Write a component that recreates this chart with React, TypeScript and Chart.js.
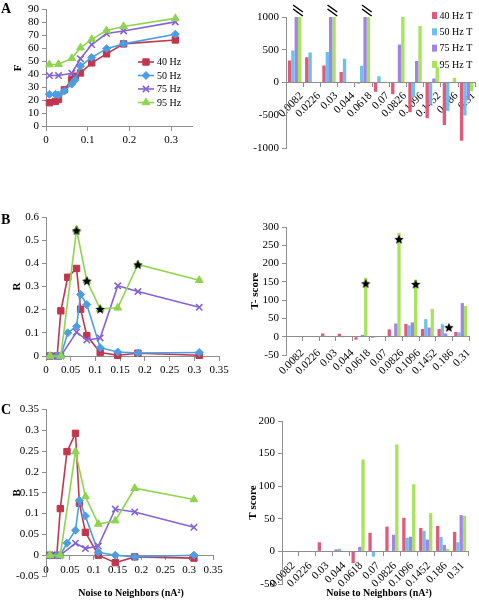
import React, { useEffect, useRef } from 'react';
import { Chart, registerables } from 'chart.js';
import { drawPoint } from 'chart.js/helpers';

Chart.register(...registerables);

const FONT = '"Liberation Serif", "Times New Roman", Times, serif';
Chart.defaults.font.family = FONT;
Chart.defaults.font.size = 11;
Chart.defaults.color = '#000';

// ---------- shared data ----------
const SERIES = ['40 Hz', '50 Hz', '75 Hz', '95 Hz'];
const BAR_SERIES = ['40 Hz T', '50 Hz T', '75 Hz T', '95 Hz T'];
const NOISE_ALL = [0.0082, 0.0226, 0.03, 0.044, 0.0618, 0.07, 0.0826, 0.1096, 0.1452, 0.186, 0.31];
const NOISE_HIGH = [0.0082, 0.03, 0.0618, 0.0826, 0.1096, 0.1452, 0.186, 0.31];
const CATEGORIES = ['0.0082', '0.0226', '0.03', '0.044', '0.0618', '0.07', '0.0826', '0.1096', '0.1452', '0.186', '0.31'];

// ---------- panel A: F ----------
const F_40 = [18, 19, 20.5, 28, 36, 38.5, 41, 48.8, 55.8, 63.5, 66.5];
const F_50 = [24.5, 24.5, 24, 27, 32.4, 35.5, 46.3, 53, 59.8, 63.5, 71];
const F_75 = [39, 39, 40.8, 52, 63, 71.5, 73.5, 80.5];
const F_95 = [47.5, 47.8, 52.3, 60.5, 67, 73.8, 77, 83.2];

const FT_40 = [337, 387, 261, 161, -15, -141, -181, -455, -545, -650, -890];
const FT_50 = [487, 457, 467, 362, 256, 95, 0, -220, -340, -435, -505];
const FT_75 = [1000, null, 1000, null, 1000, null, 582, 330, 60, 0, -270];
const FT_95 = [1000, null, 1000, null, 1000, null, 1000, 863, 235, 71, -132];
const FT_BREAKS = ['0.0082', '0.03', '0.0618'];

// ---------- panel B: R ----------
const R_40 = [0, 0, 0.195, 0.34, 0.378, 0.202, 0.088, 0.015, 0.003, 0.012, 0.003];
const R_50 = [0, 0, 0, 0.1, 0.128, 0.266, 0.222, 0.036, 0.017, 0.013, 0.015];
const R_75 = [0, 0, 0.103, 0.069, 0.078, 0.303, 0.278, 0.21];
const R_95 = [0, 0, 0.545, 0.325, 0.203, 0.208, 0.395, 0.327];
const R_STAR_X = [0.0618, 0.0826, 0.1096, 0.186];
const R_STAR_Y = [0.542, 0.325, 0.203, 0.395];

const RT_40 = [0, 0, 9, 8, -8, -3, 20, 35, 21, 21, 13];
const RT_50 = [0, 0, 0, -2, 1, -2, 0, 31, 48, 34, 12];
const RT_75 = [0, null, 0, null, 5, null, 36, 39, 25, 9, 92];
const RT_95 = [0, null, 0, null, 161, null, 284, 156, 76, 0, 84];
const RT_STAR_CATS = ['0.0618', '0.0826', '0.1096', '0.186'];
const RT_STAR_VALUES = [146, 267, 144, 26];

// ---------- panel C: B ----------
const B_40 = [0, 0, 0.112, 0.249, 0.293, 0.125, 0.055, 0, -0.018, -0.004, -0.007];
const B_50 = [0, 0, 0, 0.029, 0.06, 0.132, 0.094, 0.007, 0, -0.004, 0];
const B_75 = [0, 0, 0.029, 0.016, 0.022, 0.111, 0.104, 0.067];
const B_95 = [0, 0, 0.249, 0.141, 0.075, 0.083, 0.161, 0.134];

const BT_40 = [0, 0, 14, 3, -18, 28.5, 38, 51.5, 36, 39, 30];
const BT_50 = [0, 0, 0, 4, 0, -8, -1, 21, 31.5, 22, 14];
const BT_75 = [0, null, 0, null, 7, null, 25.5, 22.5, 18, 10, 55.6];
const BT_95 = [0, null, 0, null, 141, null, 164, 103, 58.7, 4, 54.6];

// ---------- styles ----------
const LINE_COLORS = ['#c2364d', '#4b9ee3', '#8463d4', '#8fd44e'];
const BAR_COLORS = ['#e25a7b', '#6cbff0', '#a085e4', '#a7e35b'];
const POINT_STYLES = ['rect', 'rectRot', 'crossRot', 'triangle'];
const POINT_RADII = [4.5, 4, 4.5, 4.5];
const AXIS = '#8e8e8e';

function makeStar(size: number) {
  const c = document.createElement('canvas');
  c.width = size;
  c.height = size;
  const ctx = c.getContext('2d')!;
  ctx.fillStyle = '#000';
  ctx.beginPath();
  const cx = size / 2, cy = size / 2 + 0.6, R = size / 2, r = R * 0.45;
  for (let i = 0; i < 10; i++) {
    const a = -Math.PI / 2 + (i * Math.PI) / 5;
    const rad = i % 2 ? r : R;
    ctx.lineTo(cx + rad * Math.cos(a), cy + rad * Math.sin(a));
  }
  ctx.closePath();
  ctx.fill();
  return c;
}

const fmt = (v: any) => String(Math.round(Number(v) * 10000) / 10000);

function yAxis(o: { min: number; max: number; step: number; width: number; title?: string; titlePad?: number }) {
  return {
    type: 'linear',
    min: o.min,
    max: o.max,
    ticks: { stepSize: o.step, autoSkip: false, padding: 3, color: '#000', font: { size: 11 }, callback: fmt },
    grid: { display: true, drawOnChartArea: false, drawTicks: true, tickLength: 4, color: AXIS },
    border: { display: true, color: AXIS, width: 1 },
    title: o.title
      ? { display: true, text: o.title, color: '#000', font: { size: 11, weight: 'bold' }, padding: { top: o.titlePad ?? 8, bottom: 0 } }
      : { display: false },
    afterFit: (s: any) => {
      s.width = o.width;
    },
  };
}

function xLinear(o: { max: number; step: number; includeBounds: boolean }) {
  return {
    type: 'linear',
    axis: 'x',
    position: { y: 0 },
    min: 0,
    max: o.max,
    ticks: { stepSize: o.step, includeBounds: o.includeBounds, autoSkip: false, padding: 4, color: '#000', font: { size: 11 }, callback: fmt, maxRotation: 0 },
    grid: { display: true, drawOnChartArea: false, drawTicks: true, tickLength: 4, color: AXIS },
    border: { display: true, color: AXIS, width: 1 },
  };
}

function xCategory(labelOffset: number, padding: number) {
  return {
    type: 'category',
    axis: 'x',
    position: { y: 0 },
    offset: true,
    ticks: { autoSkip: false, minRotation: 45, maxRotation: 45, padding, labelOffset, color: '#000', font: { size: 11 } },
    grid: { display: true, offset: true, drawOnChartArea: false, drawTicks: true, tickLength: 4, color: AXIS },
    border: { display: true, color: AXIS, width: 1 },
  };
}

function lineDataset(i: number, xs: number[], ys: number[]) {
  return {
    label: SERIES[i],
    data: xs.map((x, k) => ({ x, y: ys[k] })),
    borderColor: LINE_COLORS[i],
    backgroundColor: LINE_COLORS[i],
    pointBackgroundColor: LINE_COLORS[i],
    pointBorderColor: LINE_COLORS[i],
    borderWidth: 1.6,
    pointStyle: POINT_STYLES[i],
    pointRadius: POINT_RADII[i],
    pointBorderWidth: i === 2 ? 1.6 : 1,
    tension: 0,
    clip: false,
    order: 3 - i,
  };
}

function barDataset(i: number, values: (number | null)[]) {
  return {
    label: BAR_SERIES[i],
    data: values,
    backgroundColor: BAR_COLORS[i],
    borderWidth: 0,
    categoryPercentage: 0.78,
    barPercentage: 1,
  };
}

function makeLineLegend(x: number, y: number, spacing: number) {
  return {
    id: 'lineLegend',
    afterDatasetsDraw(chart: any) {
      const ctx = chart.ctx;
      ctx.save();
      ctx.font = `10px ${FONT}`;
      ctx.textBaseline = 'middle';
      chart.data.datasets.slice(0, 4).forEach((ds: any, i: number) => {
        const yy = y + i * spacing;
        ctx.strokeStyle = ds.borderColor;
        ctx.lineWidth = ds.borderWidth;
        ctx.beginPath();
        ctx.moveTo(x, yy);
        ctx.lineTo(x + 16, yy);
        ctx.stroke();
        ctx.fillStyle = ds.pointBackgroundColor;
        ctx.strokeStyle = ds.pointBorderColor;
        ctx.lineWidth = ds.pointBorderWidth;
        drawPoint(ctx, { pointStyle: ds.pointStyle, radius: ds.pointRadius, rotation: 0, borderWidth: ds.pointBorderWidth } as any, x + 8, yy);
        ctx.fillStyle = '#000';
        ctx.fillText(ds.label, x + 19, yy + 0.5);
      });
      ctx.restore();
    },
  };
}

function makeBoxLegend(x: number, y: number, spacing: number) {
  return {
    id: 'boxLegend',
    afterDatasetsDraw(chart: any) {
      const ctx = chart.ctx;
      ctx.save();
      ctx.font = `10px ${FONT}`;
      ctx.textBaseline = 'middle';
      chart.data.datasets.forEach((ds: any, i: number) => {
        const yy = y + i * spacing;
        ctx.fillStyle = ds.backgroundColor;
        ctx.fillRect(x, yy - 3.5, 5, 7);
        ctx.fillStyle = '#000';
        ctx.fillText(ds.label, x + 7.5, yy + 0.5);
      });
      ctx.restore();
    },
  };
}

function makeBreakPlugin(cats: string[]) {
  return {
    id: 'breakMarks',
    afterDatasetsDraw(chart: any) {
      const ctx = chart.ctx;
      const m2 = chart.getDatasetMeta(2);
      const m3 = chart.getDatasetMeta(3);
      ctx.save();
      ctx.strokeStyle = '#000';
      ctx.lineWidth = 1.5;
      cats.forEach((c) => {
        const i = chart.data.labels.indexOf(c);
        const a = m2.data[i];
        const b = m3.data[i];
        if (!a || !b) return;
        const xl = a.x - a.width / 2 - 1.5;
        const xr = b.x + b.width / 2 + 1.5;
        const top = Math.min(a.y, b.y);
        [[-12, -5], [-8, -1]].forEach(([d1, d2]) => {
          ctx.beginPath();
          ctx.moveTo(xl, top + d1);
          ctx.lineTo(xr, top + d2);
          ctx.stroke();
        });
      });
      ctx.restore();
    },
  };
}

function makeBarStars(cats: string[], values: number[], datasetIndex: number, star: HTMLCanvasElement) {
  return {
    id: 'barStars',
    afterDatasetsDraw(chart: any) {
      const ctx = chart.ctx;
      const meta = chart.getDatasetMeta(datasetIndex);
      const ys = chart.scales.y;
      cats.forEach((c, k) => {
        const i = chart.data.labels.indexOf(c);
        const el = meta.data[i];
        if (!el) return;
        const px = el.x;
        const py = ys.getPixelForValue(values[k]);
        ctx.drawImage(star, px - star.width / 2, py - star.height / 2);
      });
    },
  };
}

const baseOptions = (padding: any) => ({
  animation: false,
  responsive: false,
  maintainAspectRatio: false,
  devicePixelRatio: 1,
  layout: { padding },
  plugins: { legend: { display: false }, tooltip: { enabled: false } },
});

// ---------- chart factories ----------
function makeA1() {
  return {
    type: 'line',
    data: {
      datasets: [
        lineDataset(0, NOISE_ALL, F_40),
        lineDataset(1, NOISE_ALL, F_50),
        lineDataset(2, NOISE_HIGH, F_75),
        lineDataset(3, NOISE_HIGH, F_95),
      ],
    },
    options: {
      ...baseOptions({ left: 0, top: 7, right: 48, bottom: 74 }),
      scales: {
        x: xLinear({ max: 0.35, step: 0.1, includeBounds: false }),
        y: yAxis({ min: 0, max: 90, step: 10, width: 46, title: 'F', titlePad: 11.5 }),
      },
    },
    plugins: [makeLineLegend(138, 62, 13.5)],
  };
}

function makeA2() {
  return {
    type: 'bar',
    data: {
      labels: CATEGORIES,
      datasets: [barDataset(0, FT_40), barDataset(1, FT_50), barDataset(2, FT_75), barDataset(3, FT_95)],
    },
    options: {
      ...baseOptions({ left: 0, top: 17, right: 1, bottom: 52 }),
      scales: {
        x: xCategory(7, 3),
        y: yAxis({ min: -1000, max: 1000, step: 500, width: 46 }),
      },
    },
    plugins: [makeBoxLegend(192, 15.5, 16.3), makeBreakPlugin(FT_BREAKS)],
  };
}

function makeB1(star: HTMLCanvasElement) {
  return {
    type: 'line',
    data: {
      datasets: [
        lineDataset(0, NOISE_ALL, R_40),
        lineDataset(1, NOISE_ALL, R_50),
        lineDataset(2, NOISE_HIGH, R_75),
        lineDataset(3, NOISE_HIGH, R_95),
        {
          label: 'significant',
          data: R_STAR_X.map((x, k) => ({ x, y: R_STAR_Y[k] })),
          showLine: false,
          pointStyle: star,
          pointRadius: 5,
          clip: false,
          order: -1,
        },
      ],
    },
    options: {
      ...baseOptions({ left: 0, top: 17, right: 21, bottom: 44 }),
      scales: {
        x: xLinear({ max: 0.35, step: 0.05, includeBounds: true }),
        y: yAxis({ min: 0, max: 0.6, step: 0.1, width: 46, title: 'R', titlePad: 10.5 }),
      },
    },
  };
}

function makeB2(star: HTMLCanvasElement) {
  return {
    type: 'bar',
    data: {
      labels: CATEGORIES,
      datasets: [barDataset(0, RT_40), barDataset(1, RT_50), barDataset(2, RT_75), barDataset(3, RT_95)],
    },
    options: {
      ...baseOptions({ left: 0, top: 27, right: 10, bottom: 45 }),
      scales: {
        x: xCategory(8, 6),
        y: yAxis({ min: -50, max: 300, step: 50, width: 46, title: 'T- score', titlePad: 8.5 }),
      },
    },
    plugins: [makeBarStars(RT_STAR_CATS, RT_STAR_VALUES, 3, star)],
  };
}

function makeC1() {
  return {
    type: 'line',
    data: {
      datasets: [
        lineDataset(0, NOISE_ALL, B_40),
        lineDataset(1, NOISE_ALL, B_50),
        lineDataset(2, NOISE_HIGH, B_75),
        lineDataset(3, NOISE_HIGH, B_95),
      ],
    },
    options: {
      ...baseOptions({ left: 0, top: 7, right: 27, bottom: 24 }),
      scales: {
        x: xLinear({ max: 0.35, step: 0.05, includeBounds: true }),
        y: yAxis({ min: -0.05, max: 0.35, step: 0.05, width: 46, title: 'B', titlePad: 10.5 }),
      },
    },
  };
}

function makeC2() {
  return {
    type: 'bar',
    data: {
      labels: CATEGORIES,
      datasets: [barDataset(0, BT_40), barDataset(1, BT_50), barDataset(2, BT_75), barDataset(3, BT_95)],
    },
    options: {
      ...baseOptions({ left: 0, top: 21, right: 11, bottom: 16 }),
      scales: {
        x: xCategory(3, 4),
        y: yAxis({ min: -50, max: 200, step: 50, width: 42, title: 'T score', titlePad: 6.8 }),
      },
    },
  };
}

function ChartPanel(props: { left: number; top: number; width: number; height: number; make: () => any }) {
  const ref = useRef<HTMLCanvasElement>(null);
  useEffect(() => {
    const chart = new Chart(ref.current as HTMLCanvasElement, props.make());
    return () => chart.destroy();
  }, []);
  return (
    <canvas
      ref={ref}
      width={props.width}
      height={props.height}
      style={{ position: 'absolute', left: props.left, top: props.top, width: props.width, height: props.height }}
    />
  );
}

const letterStyle = (top: number): React.CSSProperties => ({
  position: 'absolute',
  left: 1,
  top,
  fontFamily: FONT,
  fontWeight: 'bold',
  fontSize: 14,
  lineHeight: '14px',
  color: '#000',
});

const xTitleStyle = (cx: number, cy: number): React.CSSProperties => ({
  position: 'absolute',
  left: cx - 100,
  width: 200,
  top: cy - 6,
  textAlign: 'center',
  fontFamily: FONT,
  fontWeight: 'bold',
  fontSize: 10,
  lineHeight: '12px',
  color: '#000',
  whiteSpace: 'nowrap',
});

const STAR = typeof document !== 'undefined' ? makeStar(10) : (null as any);

export default function App() {
  return (
    <div style={{ position: 'absolute', left: 0, top: 0, width: 479, height: 600, background: '#fff', overflow: 'hidden' }}>
      <ChartPanel left={0} top={0} width={240} height={200} make={makeA1} />
      <ChartPanel left={240} top={0} width={239} height={200} make={makeA2} />
      <ChartPanel left={0} top={200} width={240} height={200} make={() => makeB1(STAR)} />
      <ChartPanel left={240} top={200} width={239} height={200} make={() => makeB2(STAR)} />
      <ChartPanel left={0} top={400} width={240} height={200} make={makeC1} />
      <ChartPanel left={240} top={400} width={239} height={200} make={makeC2} />
      <div style={letterStyle(1.6)}>A</div>
      <div style={letterStyle(212.6)}>B</div>
      <div style={letterStyle(402.6)}>C</div>
      <div style={xTitleStyle(131, 593)}>Noise to Neighbors (nA²)</div>
      <div style={xTitleStyle(379, 592.5)}>Noise to Neighbors (nA²)</div>
    </div>
  );
}
